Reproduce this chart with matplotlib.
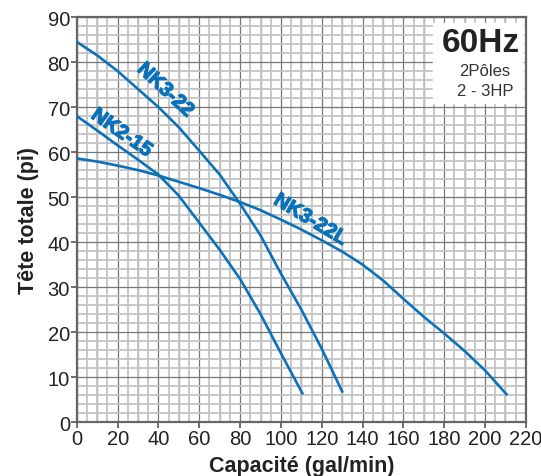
import numpy as np
import matplotlib.pyplot as plt
import matplotlib.patheffects as pe
from matplotlib.ticker import MultipleLocator

# pump curves (capacity gal/min, head ft)
nk3_22_x = [0, 10, 20, 30, 40, 50, 60, 70, 80, 90, 100, 110, 120, 130]
nk3_22_y = [84.5, 81.5, 78, 74, 70, 65.5, 60.3, 55, 48.5, 41.5, 33, 25, 16.3, 6.8]

nk2_15_x = [0, 10, 20, 30, 40, 50, 60, 70, 80, 90, 100, 110.5]
nk2_15_y = [68, 64.8, 61.5, 58.3, 55, 50.3, 44.3, 38.3, 31.8, 24, 15.3, 6.4]

nk3_22l_x = [0, 10, 20, 30, 40, 50, 60, 70, 80, 90, 100, 110, 120, 130,
             140, 150, 160, 170, 180, 190, 200, 210.5]
nk3_22l_y = [58.6, 57.9, 57, 56, 54.8, 53.4, 52, 50.5, 48.9, 47.1, 45, 42.8,
             40.4, 37.9, 35, 31.5, 27.4, 23.4, 19.7, 15.8, 11.5, 6.2]

x_ticks = list(range(0, 221, 20))
y_ticks = list(range(0, 91, 10))

blue = "#0a72bb"
plt.rcParams['font.family'] = ['Liberation Sans', 'DejaVu Sans']

fig = plt.figure(figsize=(5.41, 4.77), dpi=100)
ax = fig.add_axes([0.142, 0.113, 0.830, 0.849])

ax.set_xlim(0, 220)
ax.set_ylim(0, 90)
ax.set_xticks(x_ticks)
ax.set_yticks(y_ticks)
ax.xaxis.set_minor_locator(MultipleLocator(5))
ax.yaxis.set_minor_locator(MultipleLocator(2))

# grid: light wide minor lines, darker thin major lines
ax.grid(which='minor', color='#c4c4c4', linewidth=1.3)
ax.grid(which='major', color='#777777', linewidth=0.9)
ax.set_axisbelow(True)
# darker lines every 10 on x (between labelled ticks)
for xv in range(10, 220, 20):
    ax.axvline(xv, color='#777777', linewidth=0.9, zorder=0.5)

ax.tick_params(which='major', length=4, width=1.2, color='#555555',
               labelsize=14.5, pad=1, labelcolor='#222222')
ax.tick_params(which='minor', length=0)
for s in ax.spines.values():
    s.set_color('#666666')
    s.set_linewidth(1.6)

ax.plot(nk3_22_x, nk3_22_y, color=blue, linewidth=1.9, zorder=3)
ax.plot(nk2_15_x, nk2_15_y, color=blue, linewidth=1.9, zorder=3)
ax.plot(nk3_22l_x, nk3_22l_y, color=blue, linewidth=1.9, zorder=3)

# labels look heavier in the original, thicken them a bit
thick = [pe.withStroke(linewidth=0.9, foreground=blue)]
lab = dict(color=blue, fontsize=14.5, fontweight='bold', ha='center',
           va='center', zorder=4, rotation_mode='anchor', path_effects=thick)
ax.text(43.5, 73.8, "NK3-22", rotation=-43, **lab)
ax.text(22, 64.3, "NK2-15", rotation=-35, **lab)
ax.text(114.5, 45.0, "NK3-22L", rotation=-31, **lab)

# info box in the top-right corner
ax.fill_between([174.5, 218.5], 71, 88.8, color='white', zorder=2)
ax.text(217, 84.3, "60Hz", fontsize=24, fontweight='bold', ha='right',
        va='center', color='#222222', zorder=4)
ax.text(212.5, 78.2, "2Pôles", fontsize=12, ha='right', va='center',
        color='#333333', zorder=4)
ax.text(214, 73.6, "2 - 3HP", fontsize=12, ha='right', va='center',
        color='#333333', zorder=4)

ax.set_xlabel("Capacité (gal/min)", fontsize=15.5, fontweight='bold',
              color='#222222', labelpad=5)
ax.set_ylabel("Tête totale (pi)", fontsize=15.5, fontweight='bold',
              color='#222222', labelpad=6)

fig.savefig("out.png", dpi=100)
